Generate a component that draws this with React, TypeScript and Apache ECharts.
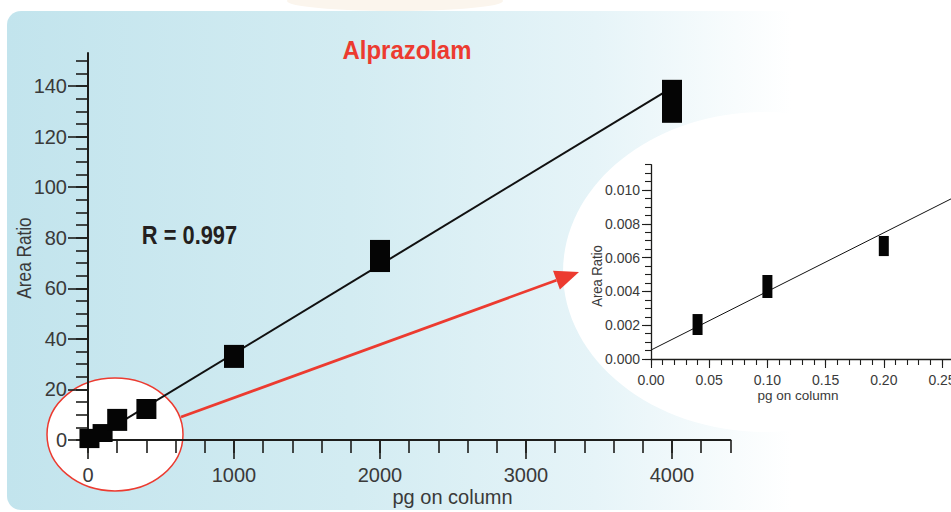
import React, { useEffect, useRef } from 'react';
import * as echarts from 'echarts';

// ---- Main calibration (pg on column vs Area Ratio) ----
const mainX = [10, 100, 200, 400, 1000, 2000, 4000];
const mainLow = [-3.2, -0.8, 3.6, 8.3, 28.5, 66.4, 125.4];
const mainHigh = [4.4, 6.3, 12.3, 16.2, 37.6, 79.1, 142.4];
const mainFitX = [0, 4000];
const mainFitY = [-0.8, 139.3];

// ---- Inset (low end) ----
const insetX = [0.04, 0.1, 0.2];
const insetLow = [0.00142, 0.00361, 0.00609];
const insetHigh = [0.00266, 0.00497, 0.00728];
const insetFitX = [0, 0.3];
const insetFitY = [0.00053, 0.01094];

// ---- Texts ----
const TITLE = 'Alprazolam';
const R_TEXT = 'R = 0.997';
const X_NAME = 'pg on column';
const Y_NAME = 'Area Ratio';

const FONT = "'Liberation Sans', Arial, sans-serif";
const INK = '#1d1d1b';
const LABEL = '#3a3a3a';
const RED = '#ec3b30';

const baseAxis = (gridIndex: number, min: number, max: number, extra: any = {}) => ({
  type: 'value',
  gridIndex,
  min,
  max,
  z: 5,
  splitLine: { show: false },
  axisLine: { show: false, onZero: false },
  axisTick: { show: false },
  axisLabel: { show: false },
  ...extra,
});

const rectSeries = (xs: number[], lo: number[], hi: number[], axisIndex: number, w: number) => ({
  type: 'custom',
  xAxisIndex: axisIndex,
  yAxisIndex: axisIndex,
  z: 6,
  data: xs.map((x, i) => [x, lo[i], hi[i]]),
  renderItem: (_params: any, api: any) => {
    const top = api.coord([api.value(0), api.value(2)]);
    const bot = api.coord([api.value(0), api.value(1)]);
    return {
      type: 'rect',
      shape: { x: top[0] - w / 2, y: top[1], width: w, height: bot[1] - top[1] },
      style: { fill: '#050505' },
    };
  },
});

export default function App() {
  const ref = useRef<HTMLDivElement>(null);
  useEffect(() => {
    document.body.style.margin = '0';
    if (!ref.current) return;
    const chart = echarts.init(ref.current, undefined, { renderer: 'svg' });

    // arrow geometry (annotation)
    const a0 = [181, 417];
    const a1 = [579, 272];
    const dx = a1[0] - a0[0];
    const dy = a1[1] - a0[1];
    const len = Math.sqrt(dx * dx + dy * dy);
    const ux = dx / len, uy = dy / len;
    const headL = 24, headW = 10;
    const bx = a1[0] - ux * headL, by = a1[1] - uy * headL;

    const mainLine = { color: INK, width: 2 };
    const insetLineStyle = { color: INK, width: 1.3 };
    const g = (left: number, top: number, right: number, bottom: number) => ({
      left, top, right, bottom, outerBoundsMode: 'none', containLabel: false,
    });

    chart.setOption({
      animation: false,
      grid: [
        g(88, 53, 220.6, 72),
        g(88, 60.7, 220.6, 72),
        g(88, 86, 279, 72),
        g(651, 164.65, -49.2, 153),
        g(651, 190, -49.2, 153),
      ],
      xAxis: [
        baseAxis(0, 0, 4400, { axisLine: { show: true, onZero: false, lineStyle: mainLine } }),
        baseAxis(1, 0, 4400, { interval: 200, axisTick: { show: true, length: 13, lineStyle: { color: INK, width: 1.6 } } }),
        baseAxis(2, 0, 4000, {
          interval: 1000,
          axisTick: { show: true, length: 19, lineStyle: { color: INK, width: 1.6 } },
          axisLabel: { show: true, fontFamily: FONT, fontSize: 20, color: LABEL, margin: 25, formatter: (v: number) => String(v) },
        }),
        baseAxis(3, 0, 0.3, {
          interval: 0.01,
          axisLine: { show: true, onZero: false, lineStyle: insetLineStyle },
          axisTick: { show: true, length: 6, lineStyle: { color: INK, width: 1.1 } },
        }),
        baseAxis(4, 0, 0.3, {
          interval: 0.05,
          axisTick: { show: true, length: 9, lineStyle: { color: INK, width: 1.1 } },
          axisLabel: { show: true, fontFamily: FONT, fontSize: 14, color: LABEL, margin: 14, formatter: (v: number) => v.toFixed(2) },
        }),
      ],
      yAxis: [
        baseAxis(0, 0, 153, { axisLine: { show: true, onZero: false, lineStyle: mainLine } }),
        baseAxis(1, 0, 150, { interval: 5, axisTick: { show: true, length: 12, lineStyle: { color: INK, width: 1.6 } } }),
        baseAxis(2, 0, 140, {
          interval: 20,
          axisTick: { show: true, length: 20, lineStyle: { color: INK, width: 1.6 } },
          axisLabel: { show: true, fontFamily: FONT, fontSize: 20, color: LABEL, margin: 21, formatter: (v: number) => String(v) },
        }),
        baseAxis(3, 0, 0.0115, {
          interval: 0.0005,
          axisLine: { show: true, onZero: false, lineStyle: insetLineStyle },
          axisTick: { show: true, length: 6, lineStyle: { color: INK, width: 1.1 } },
        }),
        baseAxis(4, 0, 0.01, {
          interval: 0.002,
          axisTick: { show: true, length: 9, lineStyle: { color: INK, width: 1.1 } },
          axisLabel: { show: true, fontFamily: FONT, fontSize: 14, color: LABEL, margin: 11, formatter: (v: number) => v.toFixed(3) },
        }),
      ],
      graphic: [
        {
          type: 'ellipse', z: -20, silent: true,
          shape: { cx: 395, cy: 1, rx: 108, ry: 10 },
          style: { fill: '#fbf5ed' },
        },
        {
          type: 'rect', z: -10, silent: true,
          shape: { x: 7, y: 11, width: 980, height: 499, r: 14 },
          style: {
            fill: new echarts.graphic.LinearGradient(0, 0, 1, 0, [
              { offset: 0, color: '#c2e4ed' },
              { offset: 0.35, color: '#d3ecf2' },
              { offset: 0.6, color: '#e6f4f8' },
              { offset: 0.8, color: '#ffffff' },
              { offset: 1, color: '#ffffff' },
            ]),
          },
        },
        {
          type: 'ellipse', z: -5, silent: true,
          shape: { cx: 765, cy: 272, rx: 202, ry: 160 },
          style: { fill: '#ffffff' },
        },
        {
          type: 'ellipse', z: -4, silent: true,
          shape: { cx: 115, cy: 434.5, rx: 68, ry: 56.5 },
          style: { fill: '#ffffff', stroke: RED, lineWidth: 1.5 },
        },
        {
          type: 'line', z: 8, silent: true,
          shape: { x1: a0[0], y1: a0[1], x2: bx, y2: by },
          style: { stroke: RED, lineWidth: 2.8 },
        },
        {
          type: 'polygon', z: 8, silent: true,
          shape: {
            points: [
              [a1[0], a1[1]],
              [bx - uy * headW, by + ux * headW],
              [bx + uy * headW, by - ux * headW],
            ],
          },
          style: { fill: RED },
        },
        {
          type: 'text', z: 10, x: 407, y: 50, scaleX: 0.92,
          style: { text: TITLE, fontFamily: FONT, fontWeight: 'bold', fontSize: 26, fill: RED, align: 'center', verticalAlign: 'middle' },
        },
        {
          type: 'text', z: 10, x: 189.5, y: 235, scaleX: 0.84,
          style: { text: R_TEXT, fontFamily: FONT, fontWeight: 'bold', fontSize: 26, fill: '#231f20', align: 'center', verticalAlign: 'middle' },
        },
        {
          type: 'text', z: 10, x: 24, y: 258, rotation: Math.PI / 2, scaleX: 0.82,
          style: { text: Y_NAME, fontFamily: FONT, fontSize: 21, fill: LABEL, align: 'center', verticalAlign: 'middle' },
        },
        {
          type: 'text', z: 10, x: 452.5, y: 497,
          style: { text: X_NAME, fontFamily: FONT, fontSize: 20, fill: LABEL, align: 'center', verticalAlign: 'middle' },
        },
        {
          type: 'text', z: 10, x: 597, y: 276, rotation: Math.PI / 2, scaleX: 0.87,
          style: { text: Y_NAME, fontFamily: FONT, fontSize: 15, fill: LABEL, align: 'center', verticalAlign: 'middle' },
        },
        {
          type: 'text', z: 10, x: 798, y: 395,
          style: { text: X_NAME, fontFamily: FONT, fontSize: 13.5, fill: LABEL, align: 'center', verticalAlign: 'middle' },
        },
      ],
      series: [
        {
          type: 'line',
          xAxisIndex: 0,
          yAxisIndex: 0,
          z: 5,
          showSymbol: false,
          data: mainFitX.map((x, i) => [x, mainFitY[i]]),
          lineStyle: { color: '#111', width: 2 },
        },
        rectSeries(mainX, mainLow, mainHigh, 0, 20),
        {
          type: 'line',
          xAxisIndex: 3,
          yAxisIndex: 3,
          z: 5,
          showSymbol: false,
          data: insetFitX.map((x, i) => [x, insetFitY[i]]),
          lineStyle: { color: '#111', width: 1 },
        },
        rectSeries(insetX, insetLow, insetHigh, 3, 10),
      ],
    });
    return () => chart.dispose();
  }, []);
  return <div ref={ref} style={{ width: 951, height: 512 }} />;
}
